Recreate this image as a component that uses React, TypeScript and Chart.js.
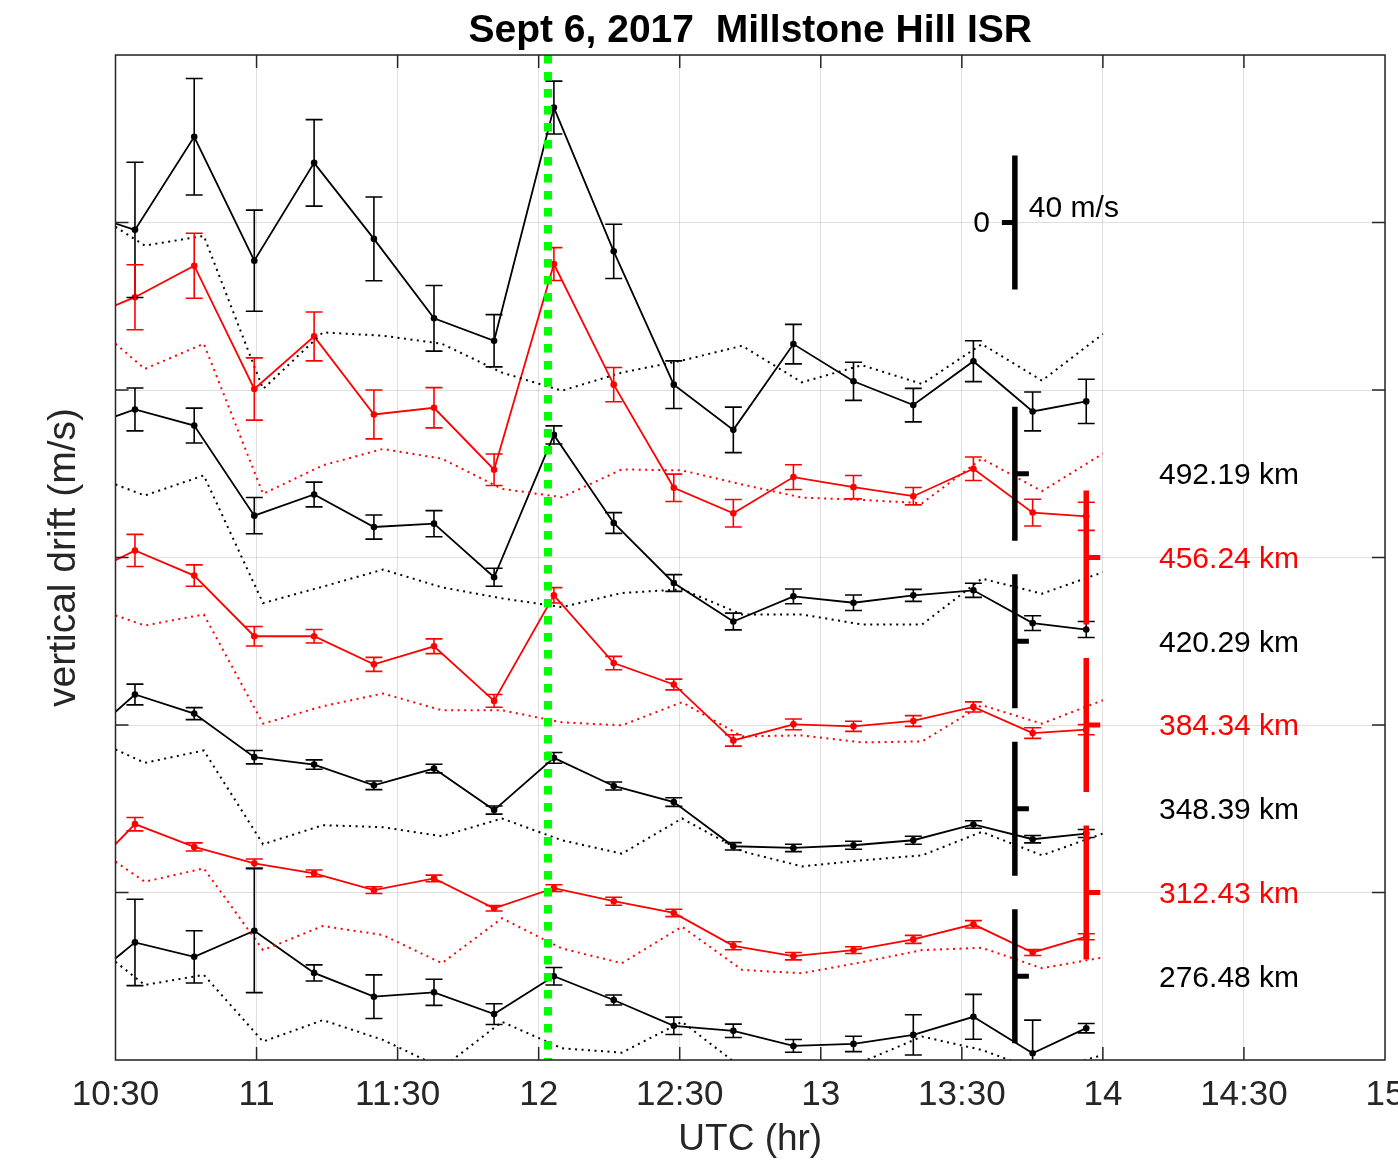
import React, { useEffect, useRef } from 'react';
import { Chart, registerables } from 'chart.js';

Chart.register(...registerables);

const FONT = "'Liberation Sans', Arial, Helvetica, sans-serif";

const titleText = 'Sept 6, 2017  Millstone Hill ISR';
const xTitle = 'UTC (hr)';
const yTitle = 'vertical drift (m/s)';

const altitudeLabels = ['492.19 km', '456.24 km', '420.29 km', '384.34 km', '348.39 km', '312.43 km', '276.48 km'];
const altitudeColors = ['#000000', '#ff0000', '#000000', '#ff0000', '#000000', '#ff0000', '#000000'];
// vertical offset (m/s) of each altitude's zero level
const altitudeOffsets = [175, 150, 125, 100, 75, 50, 25];

// observation times (UT hours)
const obsTimes = [10.356, 10.569, 10.779, 10.992, 11.204, 11.416, 11.629, 11.842, 12.054, 12.266, 12.479, 12.690, 12.903, 13.116, 13.328, 13.541, 13.751, 13.941];
// reference (dotted) curve times (UT hours)
const refTimes = [10.5, 10.604, 10.813, 11.023, 11.235, 11.448, 11.657, 11.870, 12.082, 12.295, 12.508, 12.721, 12.933, 13.146, 13.359, 13.571, 13.784, 14.0];

// vertical drift (m/s), error half-widths (m/s) and reference curves (m/s)
const drift492 = [78.6, 72.8, 100.6, 63.6, 92.8, 70.1, 46.4, 39.7, 109.3, 66.4, 26.6, 13.1, 38.7, 27.6, 20.5, 33.6, 18.6, 21.6];
const err492 = [15, 20.2, 17.4, 15.1, 12.9, 12.5, 9.8, 7.8, 7.9, 8.1, 7.1, 6.8, 5.9, 5.7, 5.0, 6.1, 5.8, 6.6];
const ref492 = [73.7, 68.1, 71.0, 25.3, 42.2, 41.2, 38.8, 30.2, 24.8, 30.2, 33.8, 38.2, 27.3, 32.4, 26.8, 38.7, 27.8, 41.7];

const drift456 = [70.2, 77.7, 87.1, 50.3, 66.0, 42.7, 44.7, 26.2, 87.6, 51.6, 20.8, 13.2, 24.0, 21.0, 18.3, 26.5, 13.4, 12.3];
const err456 = [9, 9.7, 9.7, 9.3, 7.3, 7.3, 6.0, 4.7, 4.9, 5.1, 4.1, 4.1, 3.7, 3.5, 2.6, 3.5, 4.0, 4.2];
const ref456 = [63.8, 56.3, 63.8, 19.0, 27.5, 32.4, 29.5, 20.5, 18.0, 26.3, 26.0, 21.8, 17.9, 17.2, 16.2, 29.5, 19.8, 31.0];

const drift420 = [62.9, 69.2, 64.4, 37.5, 43.8, 34.1, 35.1, 19.1, 61.6, 35.3, 17.4, 5.9, 13.4, 11.5, 13.7, 15.2, 5.4, 3.5];
const err420 = [6, 6.4, 5.2, 5.4, 3.7, 3.6, 3.9, 2.7, 2.7, 3.1, 2.5, 2.5, 2.2, 2.3, 1.8, 2.1, 2.2, 2.4];
const ref420 = [46.8, 43.5, 49.5, 11.4, 16.3, 21.4, 16.1, 12.8, 10.2, 14.4, 15.5, 8.0, 8.0, 5.0, 5.0, 18.7, 14.2, 20.6];

const drift384 = [43.0, 52.1, 44.6, 26.5, 26.5, 18.1, 23.5, 7.2, 38.7, 18.5, 12.1, -4.6, 0.2, -0.4, 1.2, 5.4, -2.4, -1.4];
const err384 = [4, 4.8, 3.2, 2.9, 2.0, 2.1, 2.2, 1.9, 2.3, 2.0, 1.6, 1.7, 1.6, 1.5, 1.6, 1.5, 1.6, 1.5];
const ref384 = [32.7, 29.7, 33.0, 0.4, 5.6, 9.4, 4.4, 4.4, 0.8, -0.1, 6.8, -3.4, -3.1, -5.2, -4.9, 5.9, 0.4, 7.4];

const drift348 = [18.1, 34.1, 28.4, 15.4, 13.2, 7.0, 12.0, -0.4, 15.2, 6.8, 2.0, -11.2, -11.7, -10.9, -9.4, -4.7, -9.1, -7.4];
const err348 = [3, 3.1, 1.8, 2.0, 1.4, 1.3, 1.3, 1.2, 1.6, 1.2, 1.3, 1.1, 1.1, 1.2, 1.2, 1.1, 1.1, 1.2];
const ref348 = [17.7, 13.7, 17.4, -10.6, -4.9, -5.5, -8.2, -2.9, -9.4, -13.4, -2.9, -12.7, -17.2, -15.4, -13.9, -6.9, -13.9, -7.4];

const drift312 = [2.0, 20.4, 13.6, 8.7, 5.7, 0.7, 4.2, -4.7, 1.3, -2.6, -6.1, -15.9, -19.0, -17.2, -14.0, -9.5, -17.9, -13.2];
const err312 = [2, 2.0, 1.2, 1.3, 1.0, 1.0, 1.0, 0.8, 1.0, 1.2, 1.1, 1.2, 1.1, 1.0, 1.2, 1.1, 0.9, 0.9];
const ref312 = [9.2, 3.2, 7.2, -17.2, -10.0, -12.7, -21.1, -7.7, -16.7, -21.1, -10.2, -23.1, -24.1, -20.8, -17.2, -16.5, -22.6, -19.4];

const drift276 = [-4.6, 10.1, 5.8, 13.6, 1.0, -6.1, -4.8, -11.3, 0.0, -7.1, -14.8, -16.3, -20.8, -20.2, -17.5, -12.1, -23.0, -15.5];
const err276 = [10, 12.9, 7.8, 18.5, 2.4, 6.5, 3.9, 3.1, 2.6, 1.5, 2.6, 2.0, 1.9, 2.3, 6.0, 6.7, 9.9, 1.4];
const ref276 = [4.3, -2.6, 0.4, -19.5, -13.1, -19.0, -27.4, -13.6, -21.5, -22.8, -13.6, -27.4, -29.6, -25.6, -18.0, -22.0, -28.6, -23.5];

const driftSeries = [drift492, drift456, drift420, drift384, drift348, drift312, drift276];
const errSeries = [err492, err456, err420, err384, err348, err312, err276];
const refSeries = [ref492, ref456, ref420, ref384, ref348, ref312, ref276];

// flare onset line (UT hours)
const flareTime = 12.033;
// scale-bar annotation
const scaleRefLevel = 250;
const scaleHalfSpan = 20;
const scaleBarLabel = '40 m/s';
const scaleZeroLabel = '0';
const blackBarTime = 13.688;
const redBarTime = 13.941;

function fmtTime(v: number): string {
  const h = Math.floor(v + 1e-9);
  const m = Math.round((v - h) * 60);
  return m === 0 ? String(h) : `${h}:${m < 10 ? '0' + m : m}`;
}

const overlayPlugin = {
  id: 'overlay',
  afterDatasetsDraw(chart: any) {
    const { ctx, chartArea: a } = chart;
    const xs = chart.scales.x;
    const ys = chart.scales.y;
    ctx.save();
    ctx.beginPath();
    ctx.rect(a.left, a.top, a.right - a.left, a.bottom - a.top);
    ctx.clip();

    // error bars
    chart.data.datasets.forEach((ds: any) => {
      if (!ds.errors) return;
      ctx.strokeStyle = ds.borderColor;
      ctx.lineWidth = 1.6;
      ctx.setLineDash([]);
      ctx.beginPath();
      ds.data.forEach((p: any, j: number) => {
        const e = ds.errors[j];
        const px = xs.getPixelForValue(p.x);
        const yTop = ys.getPixelForValue(p.y + e);
        const yBot = ys.getPixelForValue(p.y - e);
        ctx.moveTo(px, yTop); ctx.lineTo(px, yBot);
        ctx.moveTo(px - 8.5, yTop); ctx.lineTo(px + 8.5, yTop);
        ctx.moveTo(px - 8.5, yBot); ctx.lineTo(px + 8.5, yBot);
      });
      ctx.stroke();
    });

    // flare line
    const fx = xs.getPixelForValue(flareTime);
    ctx.strokeStyle = '#00ff00';
    ctx.lineWidth = 8;
    ctx.setLineDash([8.5, 8.5]);
    ctx.beginPath();
    ctx.moveTo(fx, a.top);
    ctx.lineTo(fx, a.bottom);
    ctx.stroke();
    ctx.setLineDash([]);

    // scale reference bar
    const bx = xs.getPixelForValue(blackBarTime);
    const rx = xs.getPixelForValue(redBarTime);
    const barW = 5.5;
    const tickT = 5;
    ctx.fillStyle = '#000';
    {
      const y0 = ys.getPixelForValue(scaleRefLevel);
      const y1 = ys.getPixelForValue(scaleRefLevel + scaleHalfSpan);
      const y2 = ys.getPixelForValue(scaleRefLevel - scaleHalfSpan);
      ctx.fillRect(bx - barW / 2, y1, barW, y2 - y1);
      ctx.fillRect(bx - 13, y0 - tickT / 2, 13, tickT);
      ctx.font = `30px ${FONT}`;
      ctx.textBaseline = 'middle';
      ctx.textAlign = 'right';
      ctx.fillText(scaleZeroLabel, bx - 25, y0 + 1);
      ctx.textAlign = 'left';
      ctx.fillText(scaleBarLabel, bx + 14, y0 - 14);
    }
    // per-altitude zero bars and labels
    altitudeOffsets.forEach((off, i) => {
      const color = altitudeColors[i];
      const cx = i % 2 === 0 ? bx : rx;
      const y0 = ys.getPixelForValue(off);
      const y1 = ys.getPixelForValue(off + scaleHalfSpan);
      const y2 = ys.getPixelForValue(off - scaleHalfSpan);
      ctx.fillStyle = color;
      ctx.fillRect(cx - barW / 2, y1, barW, y2 - y1);
      ctx.fillRect(cx, y0 - tickT / 2, 14, tickT);
      ctx.font = `30px ${FONT}`;
      ctx.textAlign = 'left';
      ctx.textBaseline = 'middle';
      ctx.fillText(altitudeLabels[i], 1159, y0 + 2);
    });
    ctx.restore();

    // axes box and inward ticks
    ctx.save();
    ctx.strokeStyle = '#262626';
    ctx.lineWidth = 1.5;
    ctx.strokeRect(a.left, a.top, a.right - a.left, a.bottom - a.top);
    ctx.beginPath();
    const tl = 13;
    xs.ticks.forEach((t: any) => {
      const px = xs.getPixelForValue(t.value);
      if (px <= a.left + 1 || px >= a.right - 1) return;
      ctx.moveTo(px, a.bottom); ctx.lineTo(px, a.bottom - tl);
      ctx.moveTo(px, a.top); ctx.lineTo(px, a.top + tl);
    });
    ys.ticks.forEach((t: any) => {
      const py = ys.getPixelForValue(t.value);
      if (py <= a.top + 1 || py >= a.bottom - 1) return;
      ctx.moveTo(a.left, py); ctx.lineTo(a.left + tl, py);
      ctx.moveTo(a.right, py); ctx.lineTo(a.right - tl, py);
    });
    ctx.stroke();
    ctx.restore();
  },
};

export default function App() {
  const canvasRef = useRef<HTMLCanvasElement>(null);

  useEffect(() => {
    const datasets: any[] = [];
    altitudeOffsets.forEach((off, i) => {
      const color = altitudeColors[i];
      datasets.push({
        label: altitudeLabels[i],
        data: obsTimes.map((t, j) => ({ x: t, y: off + driftSeries[i][j] })),
        errors: errSeries[i],
        borderColor: color,
        backgroundColor: color,
        borderWidth: 1.8,
        pointRadius: 3.3,
        pointHoverRadius: 3.3,
        pointBorderWidth: 0,
        pointBackgroundColor: color,
        tension: 0,
        clip: 0,
      });
      datasets.push({
        label: altitudeLabels[i] + ' ref',
        data: refTimes.map((t, j) => ({ x: t, y: off + refSeries[i][j] })),
        borderColor: color,
        borderWidth: 2,
        borderDash: [2, 4.5],
        pointRadius: 0,
        tension: 0,
        clip: 0,
      });
    });

    const chart = new Chart(canvasRef.current!, {
      type: 'line',
      data: { datasets },
      options: {
        animation: false,
        responsive: false,
        devicePixelRatio: 1,
        events: [],
        layout: { padding: { left: 0, right: 13, top: 0, bottom: 0 } },
        plugins: {
          legend: { display: false },
          tooltip: { enabled: false },
          title: {
            display: true,
            text: titleText,
            fullSize: false,
            color: '#000',
            font: { family: FONT, size: 39, weight: 'bold' },
            padding: { top: 7.6, bottom: 0.6 },
          },
        },
        scales: {
          x: {
            type: 'linear',
            min: 10.5,
            max: 15,
            afterFit: (s: any) => { s.height = 108; s.paddingLeft = 0; s.paddingRight = 0; },
            border: { display: false },
            grid: { color: 'rgba(38,38,38,0.15)', lineWidth: 1, drawTicks: false },
            ticks: {
              stepSize: 0.5,
              autoSkip: false,
              maxRotation: 0,
              padding: 14.4,
              color: '#262626',
              font: { family: FONT, size: 35 },
              callback: (v: any) => fmtTime(Number(v)),
            },
            title: {
              display: true,
              text: xTitle,
              color: '#262626',
              font: { family: FONT, size: 37 },
              padding: { top: 0, bottom: 6 },
            },
          },
          y: {
            type: 'linear',
            min: 0,
            max: 300,
            afterFit: (s: any) => { s.width = 115.5; s.paddingTop = 0; s.paddingBottom = 0; },
            border: { display: false },
            grid: { color: 'rgba(38,38,38,0.15)', lineWidth: 1, drawTicks: false },
            ticks: { stepSize: 50, display: false },
            title: {
              display: true,
              text: yTitle,
              color: '#262626',
              font: { family: FONT, size: 39 },
              padding: { top: 41, bottom: 0 },
            },
          },
        },
      } as any,
      plugins: [overlayPlugin],
    });
    return () => chart.destroy();
  }, []);

  return (
    <div style={{ position: 'absolute', left: 0, top: 0, width: 1398, height: 1168, background: '#fff' }}>
      <canvas ref={canvasRef} width={1398} height={1168} style={{ width: 1398, height: 1168, display: 'block' }} />
    </div>
  );
}
